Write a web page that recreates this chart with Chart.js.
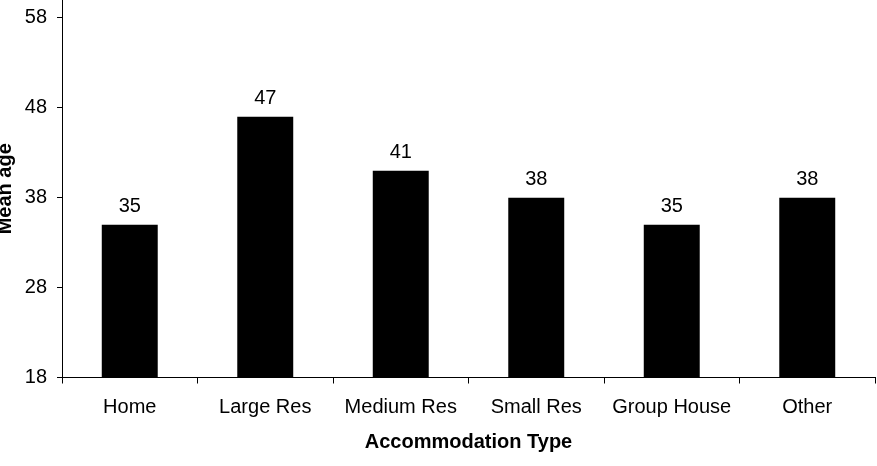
<!DOCTYPE html>
<html>
<head>
<meta charset="utf-8">
<script src="https://cdn.jsdelivr.net/npm/chart.js@4/dist/chart.umd.min.js"></script>
<style>
  html, body { margin: 0; padding: 0; background: #fff; }
  #wrap { width: 877px; height: 466px; position: relative; }
</style>
</head>
<body>
<div id="wrap"><canvas id="ageChart"></canvas></div>
<script>
const categories = ['Home', 'Large Res', 'Medium Res', 'Small Res', 'Group House', 'Other'];
const meanAge = [35, 47, 41, 38, 35, 38];
const yTicks = [18, 28, 38, 48, 58];

const FONT = "'Liberation Sans', Arial, sans-serif";

// value labels above each bar
const barLabels = {
    id: 'barLabels',
    afterDatasetsDraw(chart) {
        const ctx = chart.ctx;
        const meta = chart.getDatasetMeta(0);
        ctx.save();
        ctx.font = '20px ' + FONT;
        ctx.fillStyle = '#000';
        ctx.textAlign = 'center';
        ctx.textBaseline = 'alphabetic';
        meta.data.forEach((bar, i) => {
            ctx.fillText(String(meanAge[i]), bar.x, bar.y - 13);
        });
        ctx.restore();
    }
};

new Chart(document.getElementById('ageChart').getContext('2d'), {
    type: 'bar',
    data: {
        labels: categories,
        datasets: [{
            label: 'Mean age',
            data: meanAge,
            backgroundColor: '#000',
            borderWidth: 0,
            barPercentage: 0.413,
            categoryPercentage: 1
        }]
    },
    options: {
        responsive: true,
        maintainAspectRatio: false,
        animation: false,
        layout: { padding: { left: 0, right: 2, top: 0, bottom: 0 } },
        plugins: {
            legend: { display: false },
            tooltip: { enabled: false }
        },
        scales: {
            x: {
                grid: {
                    offset: true,
                    drawOnChartArea: false,
                    drawTicks: true,
                    tickLength: 6,
                    color: '#000'
                },
                border: { display: true, color: '#000', width: 1 },
                ticks: {
                    color: '#000',
                    padding: 12,
                    maxRotation: 0,
                    font: { family: FONT, size: 20 }
                },
                title: {
                    display: true,
                    text: 'Accommodation Type',
                    color: '#000',
                    font: { family: FONT, size: 20, weight: 'bold' },
                    padding: { top: 0, bottom: 12 }
                },
                afterFit: s => {
                    s.height = 88.5;
                    s.paddingLeft = 0;
                    s.paddingRight = 0;
                }
            },
            y: {
                min: 18,
                max: 60,
                grid: {
                    drawOnChartArea: false,
                    drawTicks: true,
                    tickLength: 5,
                    color: '#000'
                },
                border: { display: true, color: '#000', width: 1 },
                ticks: {
                    color: '#000',
                    padding: 10,
                    font: { family: FONT, size: 20 }
                },
                afterBuildTicks: s => { s.ticks = yTicks.map(v => ({ value: v })); },
                title: {
                    display: true,
                    text: 'Mean age',
                    color: '#000',
                    font: { family: FONT, size: 20, weight: 'bold' },
                    padding: { top: -7, bottom: 0 }
                },
                afterFit: s => {
                    s.width = 62;
                    s.paddingTop = 0;
                    s.paddingBottom = 0;
                }
            }
        }
    },
    plugins: [barLabels]
});
</script>
</body>
</html>
